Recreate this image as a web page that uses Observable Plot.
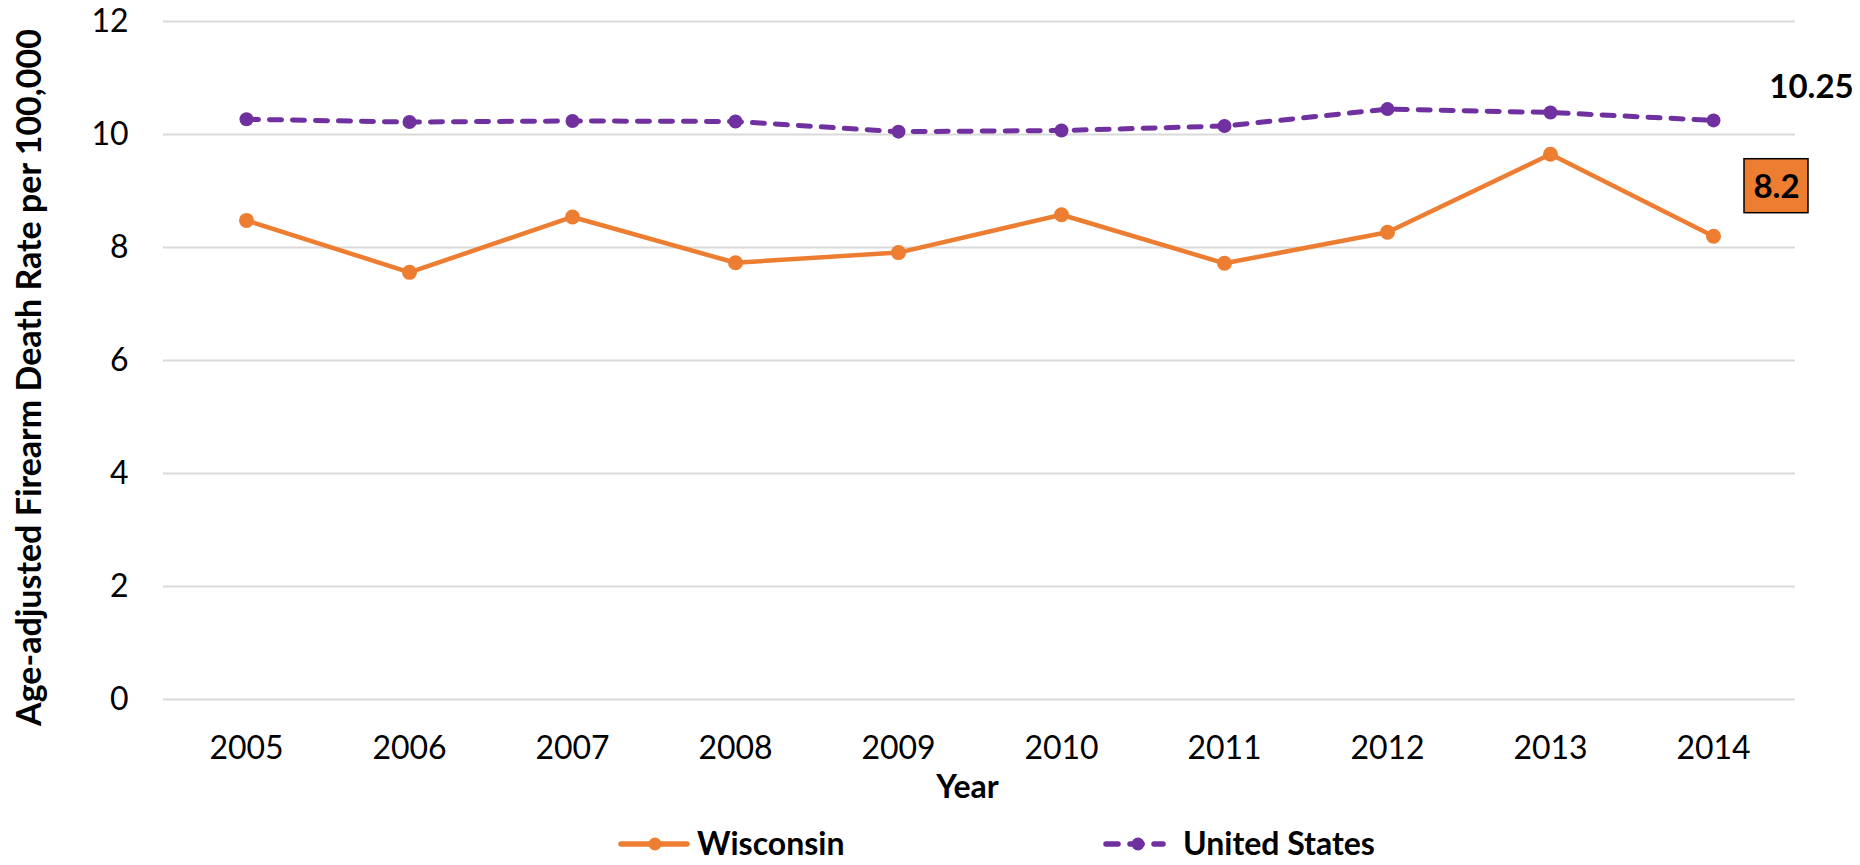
<!DOCTYPE html>
<html><head><meta charset="utf-8">
<script src="https://cdn.jsdelivr.net/npm/d3@7"></script>
<script src="https://cdn.jsdelivr.net/npm/@observablehq/plot@0.6"></script>
<style>
body{margin:0;background:#fff;font-family:Lato,sans-serif;}
#chart{width:1860px;}
.legend{position:relative;width:1860px;height:45px;}
.item{position:absolute;top:0;height:45px;display:flex;align-items:center;font-weight:700;font-size:32px;color:#000;font-family:Lato,sans-serif;}
.item svg{display:block;}
</style></head><body><div id="chart"></div>
<script>
const years = [2005, 2006, 2007, 2008, 2009, 2010, 2011, 2012, 2013, 2014];
const wisconsin = [8.48, 7.56, 8.54, 7.73, 7.91, 8.58, 7.72, 8.27, 9.65, 8.2];
const unitedStates = [10.27, 10.22, 10.24, 10.23, 10.05, 10.07, 10.15, 10.45, 10.39, 10.25];
const seriesNames = ["Wisconsin", "United States"];
const seriesColors = ["#ED7D31", "#7030A0"];
const yTicks = [0, 2, 4, 6, 8, 10, 12];
const yTitle = "Age-adjusted Firearm Death Rate per 100,000";
const xTitle = "Year";
const lastLabels = ["8.2", "10.25"];

const wi = years.map((y, i) => ({year: y, value: wisconsin[i]}));
const us = years.map((y, i) => ({year: y, value: unitedStates[i]}));
const wiLast = [{year: years[years.length - 1], value: wisconsin[wisconsin.length - 1], label: lastLabels[0]}];
const usLast = [{year: years[years.length - 1], value: unitedStates[unitedStates.length - 1], label: lastLabels[1]}];

const plot = Plot.plot({
  width: 1860,
  height: 820,
  marginLeft: 163,
  marginRight: 65,
  marginTop: 21,
  marginBottom: 121,
  style: {fontFamily: "Lato, sans-serif", fontSize: "32px", color: "#000", background: "#fff", overflow: "visible"},
  x: {type: "point", domain: years, padding: 0.5},
  y: {domain: [0, 12]},
  marks: [
    Plot.gridY(yTicks, {stroke: "#d9d9d9", strokeWidth: 2, strokeOpacity: 1}),
    Plot.axisY(yTicks, {tickSize: 0, tickPadding: 35, fontSize: 32, tickFormat: d => String(d), label: null}),
    Plot.axisX({tickSize: 0, tickPadding: 37, fontSize: 32, tickFormat: d => String(d), label: null}),
    Plot.lineY(us, {x: "year", y: "value", stroke: seriesColors[1], strokeWidth: 5, strokeDasharray: "12,11", strokeLinecap: "round"}),
    Plot.dot(us, {x: "year", y: "value", r: 7, fill: seriesColors[1]}),
    Plot.lineY(wi, {x: "year", y: "value", stroke: seriesColors[0], strokeWidth: 4.5}),
    Plot.dot(wi, {x: "year", y: "value", r: 7.5, fill: seriesColors[0]}),
    Plot.text(usLast, {x: "year", y: "value", text: "label", dx: 98, dy: -33, fontWeight: 700, fontSize: 33, fill: "#000"}),
    Plot.rect(wiLast, {x1: "year", x2: "year", y1: "value", y2: "value", insetLeft: -32, insetRight: -32, insetTop: -27, insetBottom: -27, dx: 63, dy: -50, fill: seriesColors[0], stroke: "#000", strokeWidth: 1.5}),
    Plot.text(wiLast, {x: "year", y: "value", text: "label", dx: 63, dy: -49, fontWeight: 700, fontSize: 33, fill: "#000"}),
    Plot.text([yTitle], {text: d => d, frameAnchor: "left", textAnchor: "middle", lineAnchor: "middle", rotate: -90, dx: -133, dy: 17, fontWeight: 700, fontSize: 34, fill: "#000"}),
    Plot.text([xTitle], {text: d => d, frameAnchor: "bottom", textAnchor: "middle", lineAnchor: "middle", dx: -12, dy: 88, fontWeight: 700, fontSize: 32, fill: "#000"})
  ]
});
document.getElementById("chart").appendChild(plot);

// legend below the SVG
const legend = document.createElement("div");
legend.className = "legend";
const legendPos = [{left: 618, sw: 72, gap: 7}, {left: 1103, sw: 63, gap: 17}];
seriesNames.forEach((name, i) => {
  const item = document.createElement("div");
  item.className = "item";
  item.style.left = legendPos[i].left + "px";
  const sw = legendPos[i].sw;
  const dash = i === 1 ? ' stroke-dasharray="12,12"' : "";
  const cx = i === 0 ? 37 : 35;
  item.innerHTML = `<svg width="${sw}" height="20"><line x1="3" x2="${sw - 3}" y1="11" y2="11" stroke="${seriesColors[i]}" stroke-width="5.5" stroke-linecap="round"${dash}/><circle cx="${cx}" cy="11" r="6.5" fill="${seriesColors[i]}"/></svg><span style="margin-left:${legendPos[i].gap}px">${name}</span>`;
  legend.appendChild(item);
});
document.getElementById("chart").appendChild(legend);
</script>
</body></html>
